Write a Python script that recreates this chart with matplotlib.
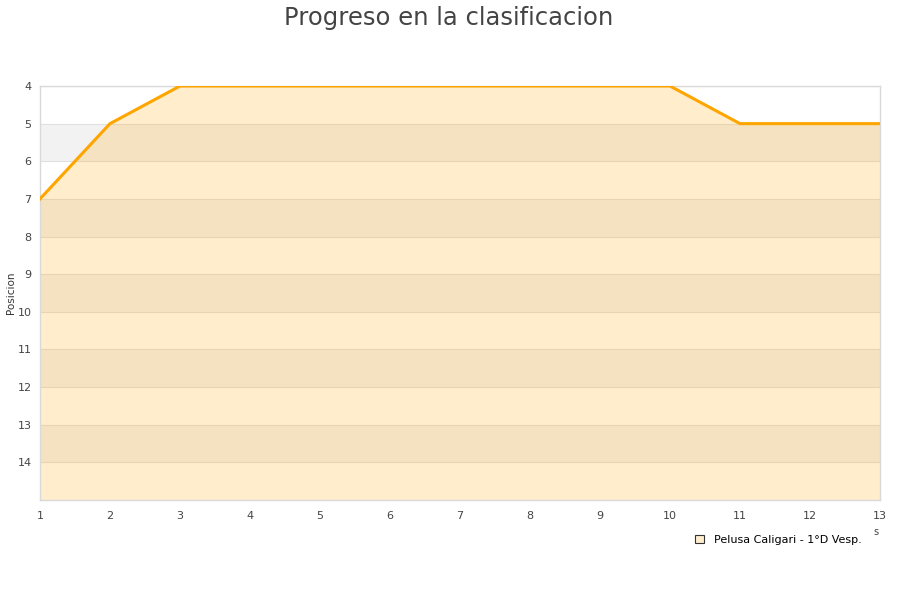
import matplotlib.pyplot as plt
from matplotlib.patches import Patch

jornadas = list(range(1, 14))
posicion = [7, 5, 4, 4, 4, 4, 4, 4, 4, 4, 5, 5, 5]
equipo = "Pelusa Caligari - 1°D Vesp."
y_ticks = list(range(4, 15))

fig = plt.figure(figsize=(9, 6), dpi=100, facecolor="white")
ax = fig.add_axes([40 / 900, 1 - 500 / 600, 840 / 900, 414 / 600])

# alternating background bands
for k in range(4, 15):
    if (k - 4) % 2 == 1:
        ax.axhspan(k, k + 1, color="#f2f2f2", lw=0, zorder=0)
    ax.axhline(k, color="#e0e0e0", lw=0.8, zorder=0.5)

ax.fill_between(jornadas, posicion, 15, color="#ffa500", alpha=0.2, lw=0, zorder=1)
ax.plot(jornadas, posicion, color="#ffa500", lw=2.2, zorder=3, solid_joinstyle="round")

ax.set_xlim(1, 13)
ax.set_ylim(15, 4)
ax.set_xticks(jornadas)
ax.set_yticks(y_ticks)
ax.tick_params(length=0, labelsize=8, colors="#444444", pad=6)
ax.tick_params(axis="x", pad=8)
for s in ax.spines.values():
    s.set_color("#d9d9d9")
    s.set_linewidth(1)
ax.set_ylabel("Posicion", fontsize=7.5, color="#333333")
ax.yaxis.set_label_coords(-0.029, 0.5)

fig.text(0.498, 0.99, "Progreso en la clasificacion", ha="center", va="top",
         fontsize=17.5, color="#444444")
fig.text(0.973, 0.108, "s", fontsize=7, color="#444444", ha="center")

handle = Patch(facecolor="#ffedcc", edgecolor="#333333", lw=0.8)
fig.legend([handle], [equipo], loc="center right", bbox_to_anchor=(0.969, 0.1),
           frameon=False, fontsize=8, handlelength=0.8, handleheight=0.8,
           handletextpad=0.9)

fig.savefig("out.png", dpi=100, facecolor="white")
